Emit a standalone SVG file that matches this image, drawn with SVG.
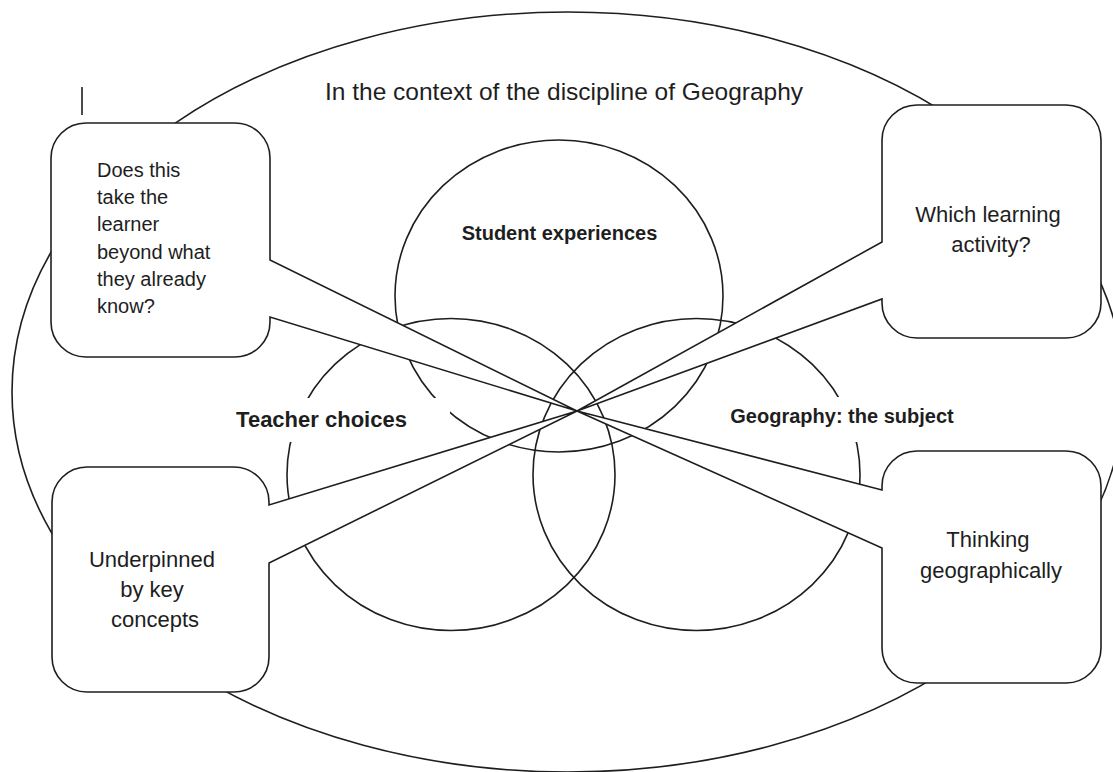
<svg xmlns="http://www.w3.org/2000/svg" width="1113" height="772" viewBox="0 0 1113 772">
  <style>
    .ln { fill: none; stroke: #1e1e1e; stroke-width: 1.6; }
    .bg { fill: #ffffff; stroke: none; }
    .txt { font-family: "Liberation Sans", Arial, sans-serif; fill: #1e1e1e; }
    .lbl { font-family: "Liberation Sans", Arial, sans-serif; font-weight: bold; fill: #1e1e1e; text-anchor: middle; }
    .mid { text-anchor: middle; }
  </style>
  <defs>
    <!-- callout outlines: rounded box with a wedge tail pointing at the shared centre -->
    <path id="c1" d="M86,123 H235 A35,35 0 0 1 270,158 V260 L577,411 L270,317 V322 A35,35 0 0 1 235,357 H86 A35,35 0 0 1 51,322 V158 A35,35 0 0 1 86,123 Z"/>
    <path id="c2" d="M917,105 H1066 A35,35 0 0 1 1101,140 V303 A35,35 0 0 1 1066,338 H917 A35,35 0 0 1 882,303 V299 L577,411 L882,242 V140 A35,35 0 0 1 917,105 Z"/>
    <path id="c3" d="M87,467 H234 A35,35 0 0 1 269,502 V505 L577,411 L269,563 V657 A35,35 0 0 1 234,692 H87 A35,35 0 0 1 52,657 V502 A35,35 0 0 1 87,467 Z"/>
    <path id="c4" d="M917,451 H1066 A35,35 0 0 1 1101,486 V648 A35,35 0 0 1 1066,683 H917 A35,35 0 0 1 882,648 V548 L577,411 L882,490 V486 A35,35 0 0 1 917,451 Z"/>
  </defs>

  <rect width="1113" height="772" fill="#ffffff"/>

  <!-- outer context ellipse -->
  <g id="context">
    <ellipse class="ln" cx="568" cy="392" rx="556" ry="380"/>
    <text class="txt" x="325" y="100" font-size="24.5">In the context of the discipline of Geography</text>
  </g>

  <!-- stray vertical mark -->
  <line class="ln" x1="82" y1="87" x2="82" y2="115"/>

  <!-- Venn circles -->
  <g id="student">
    <ellipse class="ln" cx="559" cy="296" rx="164" ry="156"/>
  </g>
  <g id="teacher">
    <ellipse class="ln" cx="451" cy="474.5" rx="164" ry="156"/>
  </g>
  <g id="geography">
    <ellipse class="ln" cx="696.5" cy="474.5" rx="163.5" ry="156"/>
  </g>

  <!-- circle labels on white text boxes -->
  <g id="labels">
    <rect class="bg" x="440" y="215" width="240" height="34"/>
    <text class="lbl" x="559.5" y="240" font-size="20">Student experiences</text>
    <rect class="bg" x="200" y="398" width="250" height="44"/>
    <text class="lbl" x="321.5" y="427" font-size="22">Teacher choices</text>
    <rect class="bg" x="718" y="397" width="250" height="45"/>
    <text class="lbl" x="842" y="423" font-size="20">Geography: the subject</text>
  </g>

  <!-- callout fills first, outlines after, so every tail edge stays visible -->
  <g id="connectors">
    <use href="#c1" class="bg"/>
    <use href="#c2" class="bg"/>
    <use href="#c3" class="bg"/>
    <use href="#c4" class="bg"/>
    <use href="#c1" class="ln"/>
    <use href="#c2" class="ln"/>
    <use href="#c3" class="ln"/>
    <use href="#c4" class="ln"/>
  </g>

  <g id="callout-beyond">
    <text class="txt" x="97" font-size="20">
      <tspan x="97" y="177">Does this</tspan>
      <tspan x="97" y="204">take the</tspan>
      <tspan x="97" y="231">learner</tspan>
      <tspan x="97" y="259">beyond what</tspan>
      <tspan x="97" y="286">they already</tspan>
      <tspan x="97" y="313">know?</tspan>
    </text>
  </g>
  <g id="callout-activity">
    <text class="txt mid" font-size="22">
      <tspan x="991" y="222">Which learning</tspan>
      <tspan x="991" y="252">activity?</tspan>
    </text>
  </g>
  <g id="callout-concepts">
    <text class="txt mid" font-size="22">
      <tspan x="155" y="567">Underpinned</tspan>
      <tspan x="155" y="597">by key</tspan>
      <tspan x="155" y="627">concepts</tspan>
    </text>
  </g>
  <g id="callout-thinking">
    <text class="txt mid" font-size="22">
      <tspan x="991" y="547">Thinking</tspan>
      <tspan x="991" y="578">geographically</tspan>
    </text>
  </g>
</svg>
